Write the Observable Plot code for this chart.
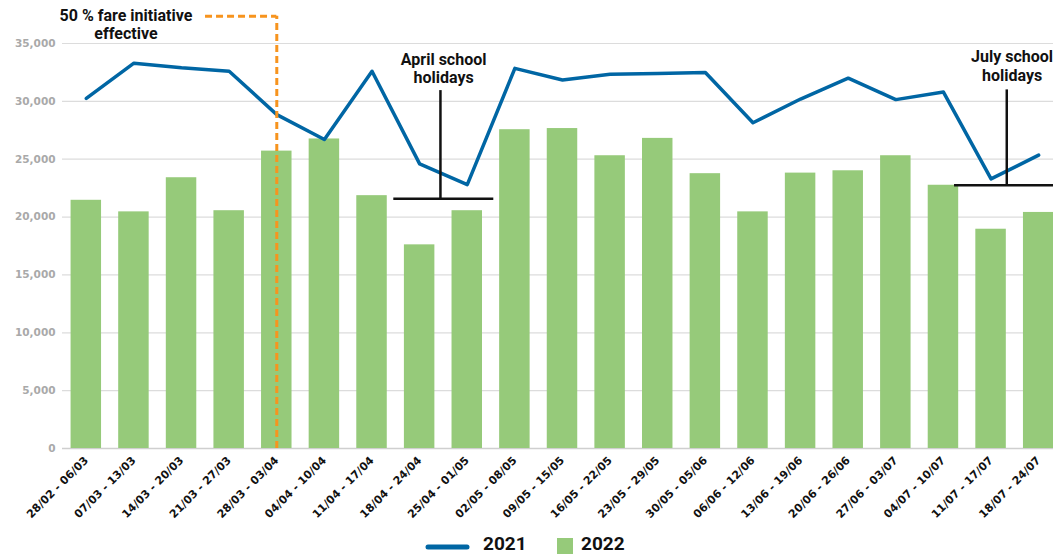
<!DOCTYPE html>
<html><head><meta charset="utf-8">
<script src="https://cdn.jsdelivr.net/npm/d3@7"></script>
<script src="https://cdn.jsdelivr.net/npm/@observablehq/plot@0.6"></script>
<style>
html,body{margin:0;padding:0;background:#fff;overflow:hidden;}
#chart{position:relative;width:1053px;height:555px;}
#chart svg.plot{max-width:none;}
#legend{position:absolute;left:0;top:527px;}
</style></head><body><div id="chart"></div>
<script>
const categories = ["28/02 - 06/03","07/03 - 13/03","14/03 - 20/03","21/03 - 27/03","28/03 - 03/04","04/04 - 10/04","11/04 - 17/04","18/04 - 24/04","25/04 - 01/05","02/05 - 08/05","09/05 - 15/05","16/05 - 22/05","23/05 - 29/05","30/05 - 05/06","06/06 - 12/06","13/06 - 19/06","20/06 - 26/06","27/06 - 03/07","04/07 - 10/07","11/07 - 17/07","18/07 - 24/07"];
const values2022 = [21450,20450,23400,20550,25700,26750,21850,17600,20550,27550,27650,25300,26800,23750,20450,23800,24000,25300,22750,18950,20400];
const values2021 = [30250,33300,32900,32600,28850,26700,32600,24600,22800,32850,31850,32350,32400,32500,28150,30200,32000,30150,30800,23300,25350];
const yTicks = [0,5000,10000,15000,20000,25000,30000,35000];
const seriesNames = ["2021","2022"];
const seriesColors = ["#0066a4","#96ca7a"];

// annotations
const fareWeek = "28/03 - 03/04";
const fareLabel = "50 % fare initiative\neffective";
const fareLevel = 37350, fareText = 36640;
const aprilWeeks = ["18/04 - 24/04","25/04 - 01/05"];
const aprilLabel = "April school\nholidays";
const aprilBar = 21580, aprilTop = 30930, aprilText = 32890;
const julyWeeks = ["11/07 - 17/07","18/07 - 24/07"];
const julyLabel = "July school\nholidays";
const julyBar = 22760, julyTop = 30990, julyText = 33080;

const data = categories.map((w,i)=>({week:w, v2022:values2022[i], v2021:values2021[i]}));
const annFont = "Roboto, 'Liberation Sans', sans-serif";
const k = v => () => v; // constant channel

const chart = Plot.plot({
  width: 1053, height: 527,
  marginTop: 43, marginBottom: 79, marginLeft: 62, marginRight: 0,
  style: {fontFamily: "'DejaVu Sans', sans-serif", background: "#fff", overflow: "visible"},
  x: {domain: categories, range: [62, 1062], paddingInner: 0.36, paddingOuter: 0.18, align: 0.5, round: false, label: null},
  y: {domain: [0, 35000], label: null},
  marks: [
    Plot.ruleY(yTicks.filter(d=>d>0), {stroke: "#dcdcdc", strokeWidth: 1.2}),
    Plot.ruleY([0], {stroke: "#cfcfcf", strokeWidth: 1.5}),
    Plot.barY(data, {x: "week", y: "v2022", fill: seriesColors[1]}),
    Plot.line(data, {x: "week", y: "v2021", stroke: seriesColors[0], strokeWidth: 3.5, strokeLinejoin: "round"}),
    // fare initiative marker
    Plot.ruleX([fareWeek], {x: d=>d, y1: k(0), y2: k(fareLevel), stroke: "#f7941e", strokeWidth: 3, strokeDasharray: "7,4"}),
    Plot.ruleY([fareLevel], {y: d=>d, x1: k(categories[3]), x2: k(fareWeek), insetLeft: -8.4, insetRight: 15.2, stroke: "#f7941e", strokeWidth: 3, strokeDasharray: "7,4"}),
    Plot.text([fareLabel], {x: k(categories[1]), y: k(fareText), text: d=>d, dx: -8, fontFamily: annFont, fontWeight: 700, fontSize: 16, lineHeight: 1.08, fill: "#111", textAnchor: "middle", lineAnchor: "middle"}),
    // April school holidays
    Plot.ruleY([aprilBar], {y: d=>d, x1: k(aprilWeeks[0]), x2: k(aprilWeeks[1]), insetLeft: -10.6, insetRight: -11.3, stroke: "#111", strokeWidth: 2.5}),
    Plot.ruleX([aprilWeeks[0]], {x: d=>d, y1: k(aprilBar), y2: k(aprilTop), dx: 20.8, stroke: "#111", strokeWidth: 2.5}),
    Plot.text([aprilLabel], {x: k(aprilWeeks[0]), y: k(aprilText), text: d=>d, dx: 24, fontFamily: annFont, fontWeight: 700, fontSize: 16, lineHeight: 1.15, fill: "#111", lineAnchor: "middle"}),
    // July school holidays
    Plot.ruleY([julyBar], {y: d=>d, x1: k(julyWeeks[0]), x2: k(julyWeeks[1]), insetLeft: -21.3, insetRight: -5, stroke: "#111", strokeWidth: 2.5}),
    Plot.ruleX([julyWeeks[0]], {x: d=>d, y1: k(julyBar), y2: k(julyTop), dx: 15.7, stroke: "#111", strokeWidth: 2.5}),
    Plot.text([julyLabel], {x: k(julyWeeks[0]), y: k(julyText), text: d=>d, dx: 21, fontFamily: annFont, fontWeight: 700, fontSize: 16, lineHeight: 1.2, fill: "#111", lineAnchor: "middle"}),
    Plot.axisY({ticks: yTicks, tickSize: 0, tickPadding: 7, tickFormat: d3.format(","), fontSize: 10.5, fontWeight: "bold", color: "#a9a9a9", label: null}),
    Plot.axisX({tickSize: 0, tickPadding: 10, tickRotate: -45, fontSize: 11, fontWeight: "bold", color: "#111", label: null})
  ]
});
document.getElementById("chart").appendChild(chart);

// legend below the plot
const legend = d3.select("#chart").append("svg").attr("id","legend").attr("width",1053).attr("height",28);
legend.append("line").attr("x1",428).attr("x2",467).attr("y1",20).attr("y2",20)
  .attr("stroke",seriesColors[0]).attr("stroke-width",5).attr("stroke-linecap","round");
legend.append("text").attr("x",483).attr("y",22.5).text(seriesNames[0])
  .attr("font-family","Roboto, sans-serif").attr("font-weight",700).attr("font-size",19).attr("fill","#111");
legend.append("rect").attr("x",557).attr("y",11).attr("width",16).attr("height",16).attr("fill",seriesColors[1]);
legend.append("text").attr("x",581).attr("y",22.5).text(seriesNames[1])
  .attr("font-family","Roboto, sans-serif").attr("font-weight",700).attr("font-size",19).attr("fill","#111");
</script></body></html>
